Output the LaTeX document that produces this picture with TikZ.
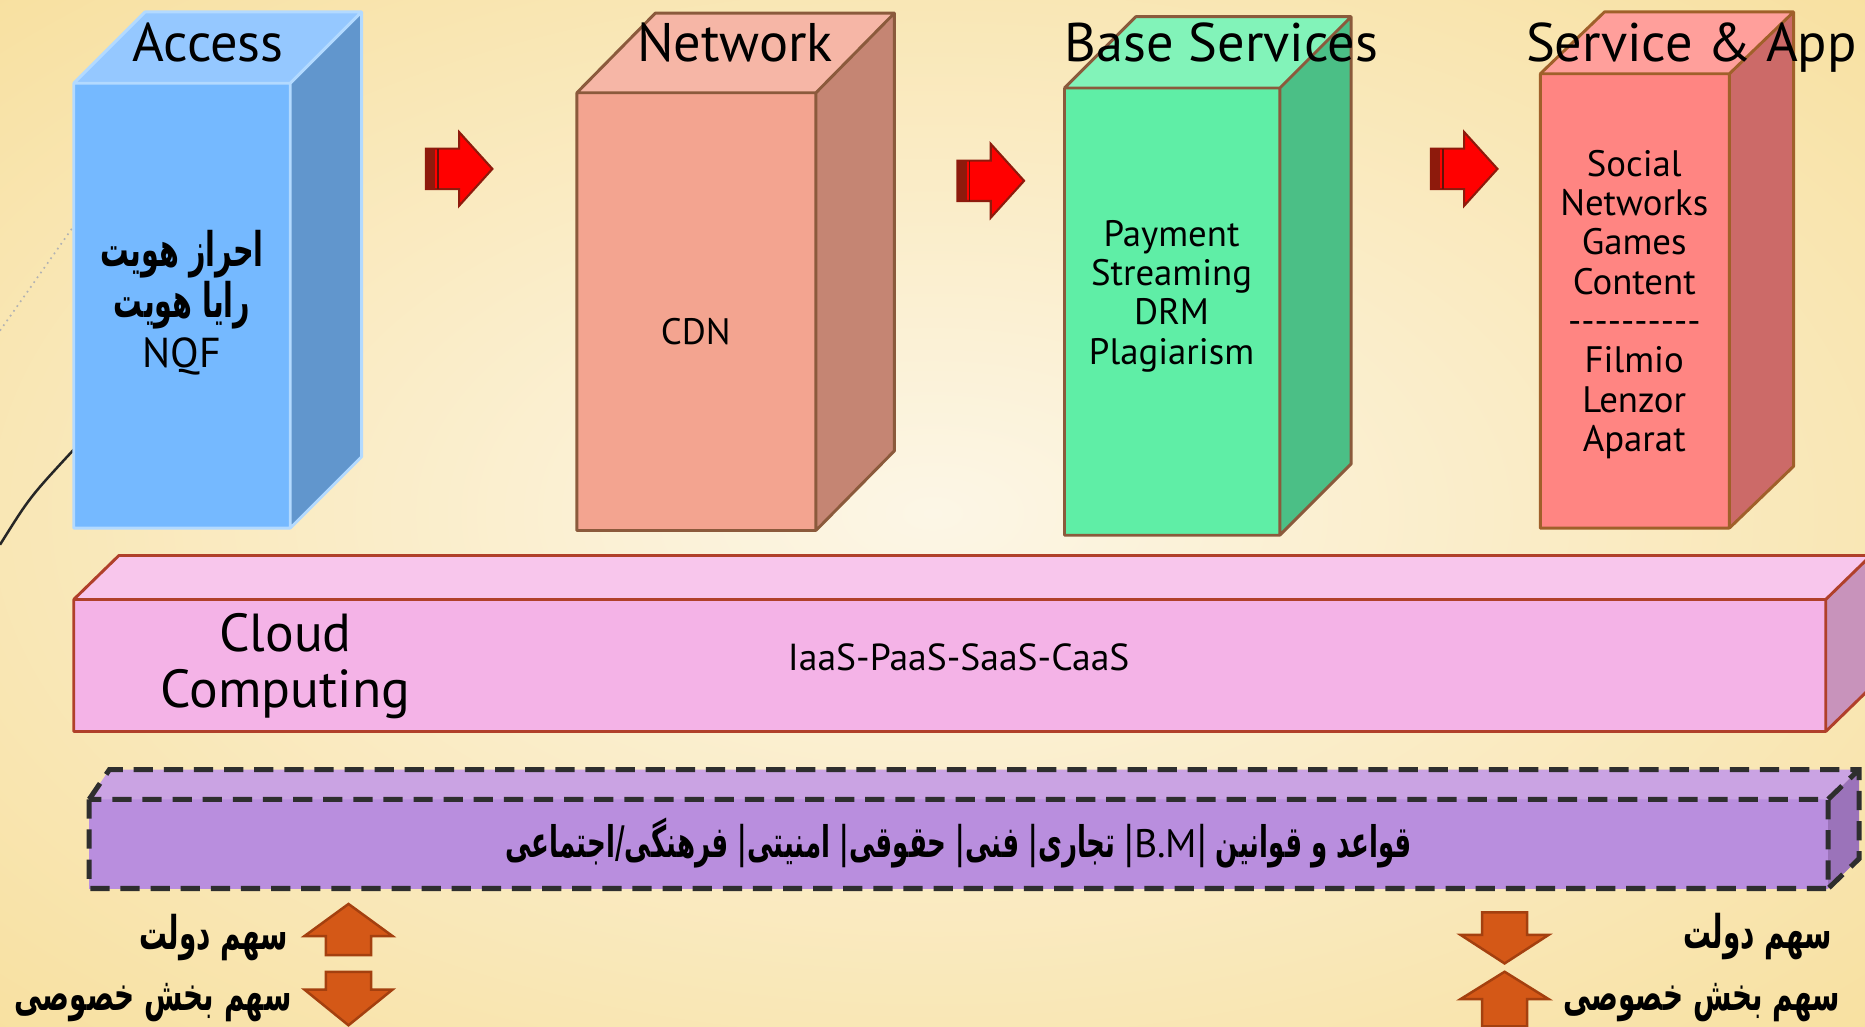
\documentclass[tikz,border=0pt]{standalone}
\usepackage{fontspec}
\setmainfont{PT Sans}
\newfontfamily\farsi[Script=Arabic,FakeStretch=0.6]{DejaVu Sans}
\TeXXeTstate=1

\begin{document}
\begin{tikzpicture}[x=0.01cm,y=-0.01cm,
    titulo/.style={font=\fontsize{13}{15}\selectfont,inner sep=0pt,anchor=base},
    texto/.style={font=\fontsize{8.8}{9.4}\selectfont,align=center,inner sep=0pt},
    fa/.style={font=\farsi\bfseries\fontsize{11.4}{12.2}\selectfont,align=center,inner sep=0pt},
    fabold/.style={font=\farsi\bfseries\fontsize{11.1}{12}\selectfont,inner sep=0pt,anchor=east},
    flecha/.style={fill=rojo,draw=rojoosc,line width=0.5pt,line join=miter},
    naranja/.style={fill=nar,draw=narosc,line width=0.6pt,line join=miter}]
        %colores
        \definecolor{crema}{HTML}{FCF6E6}
        \definecolor{oro}{HTML}{F6D783}
        \definecolor{fAcc}{HTML}{75B9FF}\definecolor{tAcc}{HTML}{95C8FF}
        \definecolor{sAcc}{HTML}{6196CD}\definecolor{bAcc}{HTML}{B3DAFF}
        \definecolor{fNet}{HTML}{F3A490}\definecolor{tNet}{HTML}{F6B6A6}
        \definecolor{sNet}{HTML}{C58573}\definecolor{bNet}{HTML}{8B5A3C}
        \definecolor{fBas}{HTML}{5FEEA6}\definecolor{tBas}{HTML}{82F3B9}
        \definecolor{sBas}{HTML}{4BBF86}\definecolor{bBas}{HTML}{8B5A3C}
        \definecolor{fSer}{HTML}{FF8582}\definecolor{tSer}{HTML}{FF9F9B}
        \definecolor{sSer}{HTML}{CC6A68}\definecolor{bSer}{HTML}{A0602A}
        \definecolor{fClo}{HTML}{F4B3E7}\definecolor{tClo}{HTML}{F8C6EC}
        \definecolor{sClo}{HTML}{C893BB}\definecolor{bClo}{HTML}{B0402A}
        \definecolor{fReg}{HTML}{B98EDE}\definecolor{tReg}{HTML}{CAA3E3}
        \definecolor{sReg}{HTML}{9B73BA}
        \definecolor{rojo}{HTML}{FF0000}\definecolor{rojoosc}{HTML}{8E1A0C}
        \definecolor{nar}{HTML}{D45817}\definecolor{narosc}{HTML}{A4400F}

        % Fondo
        \clip (0,0) rectangle (1568,863);
        \shade[inner color=crema,outer color=oro] (-800,-450) rectangle (2368,1313);
        \draw[black!85,line width=0.6pt] (0,458) .. controls (25,418) .. (62,378);
        \draw[gray!60,line width=0.4pt,densely dotted] (0,278) -- (62,190);

        % Cajas 3D
        \foreach \xa/\ya/\xb/\yb/\dx/\dy/\n in {62/70/244/444/60/60/Acc,
            485/78/686/446/66/67/Net, 895/74/1076/450/60/60/Bas,
            1295/62/1454/444/54/52/Ser, 62/504/1535/615/38/37/Clo}
        {
            \fill[f\n] (\xa,\ya) rectangle (\xb,\yb);
            \fill[t\n] (\xa,\ya) -- ++(\dx,-\dy) -- ++(\xb-\xa,0) -- (\xb,\ya) -- cycle;
            \fill[s\n] (\xb,\ya) -- ++(\dx,-\dy) -- ++(0,\yb-\ya) -- (\xb,\yb) -- cycle;
            \draw[b\n,line width=0.7pt,line join=round] (\xa,\ya) rectangle (\xb,\yb)
                (\xa,\ya) -- ++(\dx,-\dy) -- ++(\xb-\xa,0) -- ++(0,\yb-\ya) -- (\xb,\yb)
                (\xb,\ya) -- ++(\dx,-\dy);
        }

        % Barra de reglas (discontinua)
        \fill[fReg] (75,672) rectangle (1537,747);
        \fill[tReg] (75,672) -- (92,647) -- (1563,647) -- (1537,672) -- cycle;
        \fill[sReg] (1537,672) -- (1563,647) -- (1563,722) -- (1537,747) -- cycle;
        \draw[black!82,line width=1.2pt,dash pattern=on 4.6pt off 2.6pt]
            (75,672) rectangle (1537,747)
            (75,672) -- (92,647) -- (1563,647) -- (1563,722) -- (1537,747)
            (1537,672) -- (1563,647);

        % Flechas rojas
        \foreach \x/\y in {358/142, 805/152, 1203/142}
        {
            \draw[flecha] (\x,\y-17) -- ++(28,0) -- ++(0,-14) -- (\x+56,\y)
                -- (\x+28,\y+31) -- ++(0,-14) -- (\x,\y+17) -- cycle;
            \fill[rojoosc] (\x,\y-17) rectangle ++(8,34);
            \draw[rojoosc!70!black,line width=0.4pt] (\x+10,\y-17) -- ++(0,34);
        }

        % Flechas naranjas (x / cola / base punta / punta)
        \foreach \cx/\a/\b/\c in {293/803/787/760, 293/817/832/862,
            1265/767/786/810, 1265/863/840/817}
            \draw[naranja] (\cx,\c) -- (\cx+37,\b) -- (\cx+19,\b) -- (\cx+19,\a)
                -- (\cx-19,\a) -- (\cx-19,\b) -- (\cx-37,\b) -- cycle;

        % Titulos
        \node[titulo] (access) at (175,52) {Access};
        \node[titulo] (network) at (618,52) {Network};
        \node[titulo] (base) at (1027,52) {Base Services};
        \node[titulo] (service) at (1422,52) {Service \& App};

        % Textos
        \node[fa] (accFa) at (153,235) {\beginR احراز هویت\endR\\\beginR رایا هویت\endR};
        \node[font=\fontsize{10}{12}\selectfont,inner sep=0pt] (nqf) at (153,300) {NQF};
        \node[texto] (cdn) at (585,279) {CDN};
        \node[texto] (basTxt) at (985,249) {Payment\\Streaming\\DRM\\Plagiarism};
        \node[texto] (serTxt) at (1374,256) {Social\\Networks\\Games\\Content\\-{}-{}-{}-{}-{}-{}-{}-{}-{}-\\Filmio\\Lenzor\\Aparat};
        \node[font=\fontsize{12.8}{13.4}\selectfont,align=center,inner sep=0pt] (cloud) at (240,560) {Cloud\\Computing};
        \node[font=\fontsize{9}{11}\selectfont,inner sep=0pt] (iaas) at (806,553) {IaaS-PaaS-SaaS-CaaS};
        \node[fa,font=\farsi\bfseries\fontsize{10.4}{12}\selectfont] (reglas) at (806,709) {\beginR قواعد و قوانین |\beginL{\rmfamily\mdseries\fontsize{9.5}{12}\selectfont B.M}\endL{}| تجاری| فنی| حقوقی| امنیتی| فرهنگی/اجتماعی\endR};

        % Sectores
        \node[fabold] (gobIzq) at (243,788) {\beginR سهم دولت\endR};
        \node[fabold] (privIzq) at (246,843) {\beginR سهم بخش خصوصی\endR};
        \node[fabold] (gobDer) at (1541,787) {\beginR سهم دولت\endR};
        \node[fabold] (privDer) at (1548,843) {\beginR سهم بخش خصوصی\endR};
\end{tikzpicture}
\end{document}
